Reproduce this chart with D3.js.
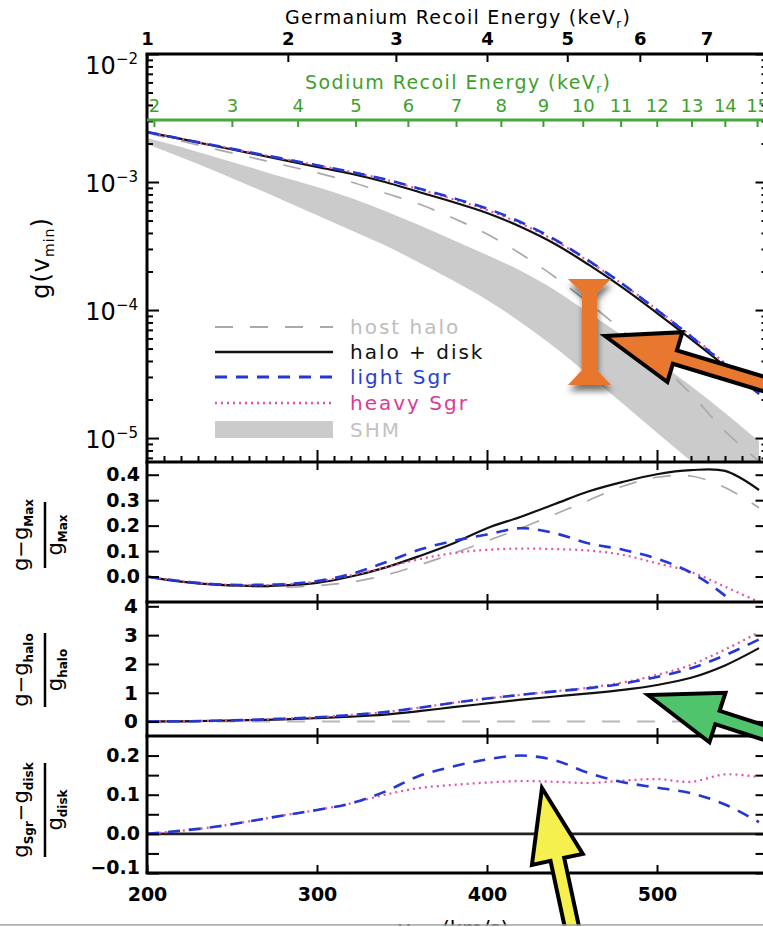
<!DOCTYPE html>
<html lang="en">
<head>
<meta charset="UTF-8">
<title>g(vmin) with the Sgr stream</title>
<script src="https://d3js.org/d3.v7.min.js"></script>
<style>
body { margin: 0; background: #fff; }
svg { display: block; }
text { font-family: "DejaVu Sans", sans-serif; }
</style>
</head>
<body>
<div id="chart"></div>
<script>
// velocity grid, km/s
var vmin = [200, 220, 240, 260, 280, 300, 320, 340, 360, 380, 400, 420, 440, 460, 480, 500, 520, 540, 560];

// top panel: g(vmin)
var gHostHalo = [2.42e-3, 2.09e-3, 1.81e-3, 1.57e-3, 1.36e-3, 1.18e-3, 1.00e-3, 8.2e-4, 6.73e-4, 5.23e-4, 3.92e-4, 2.74e-4, 1.81e-4, 1.13e-4, 6.85e-5, 4.0e-5, 2.21e-5, 1.13e-5, 6.6e-6];
var gHaloDisk = [2.46e-3, 2.17e-3, 1.91e-3, 1.69e-3, 1.49e-3, 1.31e-3, 1.16e-3, 1.00e-3, 8.35e-4, 6.98e-4, 5.73e-4, 4.45e-4, 3.28e-4, 2.25e-4, 1.49e-4, 9.47e-5, 5.93e-5, 3.65e-5, 2.21e-5];
var gLightSgr = [2.46e-3, 2.175e-3, 1.93e-3, 1.71e-3, 1.52e-3, 1.35e-3, 1.20e-3, 1.05e-3, 8.9e-4, 7.5e-4, 6.2e-4, 4.85e-4, 3.55e-4, 2.42e-4, 1.59e-4, 1.0e-4, 6.2e-5, 3.75e-5, 2.22e-5];
var gHeavySgr = [2.46e-3, 2.175e-3, 1.93e-3, 1.71e-3, 1.52e-3, 1.35e-3, 1.20e-3, 1.045e-3, 8.8e-4, 7.35e-4, 6.05e-4, 4.72e-4, 3.48e-4, 2.39e-4, 1.585e-4, 1.01e-4, 6.3e-5, 3.85e-5, 2.3e-5];
var shmHigh = [2.21e-3, 1.88e-3, 1.57e-3, 1.31e-3, 1.09e-3, 9.14e-4, 7.5e-4, 5.93e-4, 4.61e-4, 3.52e-4, 2.69e-4, 2.02e-4, 1.43e-4, 9.47e-5, 6.26e-5, 4.0e-5, 2.55e-5, 1.57e-5, 9.47e-6];
var shmLow = [1.98e-3, 1.56e-3, 1.22e-3, 9.4e-4, 7.2e-4, 5.5e-4, 4.2e-4, 3.2e-4, 2.35e-4, 1.7e-4, 1.2e-4, 8.0e-5, 5.1e-5, 3.1e-5, 1.85e-5, 1.1e-5, 6.6e-6, 3.9e-6, 2.3e-6];

// second panel: (g - gMax)/gMax
var maxHost = [0, -0.02, -0.033, -0.04, -0.042, -0.036, -0.022, 0.005, 0.045, 0.09, 0.14, 0.19, 0.245, 0.3, 0.355, 0.39, 0.395, 0.35, 0.27];
var maxDisk = [0, -0.02, -0.032, -0.037, -0.035, -0.025, 0.0, 0.035, 0.08, 0.13, 0.19, 0.235, 0.285, 0.335, 0.372, 0.402, 0.418, 0.415, 0.34];
var maxLight = [0, -0.018, -0.03, -0.033, -0.03, -0.018, 0.01, 0.055, 0.105, 0.14, 0.165, 0.19, 0.17, 0.13, 0.105, 0.07, 0.015, -0.075, -0.2];
var maxHeavy = [0, -0.018, -0.03, -0.034, -0.031, -0.02, 0.005, 0.035, 0.068, 0.092, 0.105, 0.11, 0.108, 0.102, 0.085, 0.052, 0.018, -0.04, -0.1];

// third panel: (g - ghalo)/ghalo
var haloDisk = [0, 0.01, 0.03, 0.05, 0.08, 0.12, 0.17, 0.24, 0.36, 0.5, 0.63, 0.76, 0.87, 0.98, 1.1, 1.27, 1.52, 1.95, 2.55];
var haloLight = [0, 0.01, 0.03, 0.06, 0.1, 0.15, 0.23, 0.33, 0.48, 0.65, 0.8, 0.93, 1.05, 1.16, 1.32, 1.55, 1.85, 2.3, 2.85];
var haloHeavy = [0, 0.01, 0.03, 0.06, 0.1, 0.15, 0.23, 0.33, 0.48, 0.65, 0.8, 0.93, 1.05, 1.18, 1.36, 1.62, 1.97, 2.5, 3.1];

// bottom panel: (gSgr - gdisk)/gdisk
var diskLight = [0, 0.008, 0.018, 0.032, 0.047, 0.061, 0.078, 0.108, 0.148, 0.172, 0.19, 0.2, 0.188, 0.155, 0.132, 0.118, 0.104, 0.075, 0.03];
var diskHeavy = [0, 0.008, 0.018, 0.032, 0.047, 0.061, 0.078, 0.1, 0.117, 0.125, 0.131, 0.135, 0.133, 0.13, 0.136, 0.14, 0.133, 0.152, 0.145];

// tick labels
var xTickValues = [200, 300, 400, 500];
var geTickValues = [1, 2, 3, 4, 5, 6, 7];
var naTickValues = [2, 3, 4, 5, 6, 7, 8, 9, 10, 11, 12, 13, 14, 15];
var logExponents = [-2, -3, -4, -5];
var p2Ticks = [0.0, 0.1, 0.2, 0.3, 0.4];
var p3Ticks = [0, 1, 2, 3, 4];
var p4Ticks = [-0.1, -0.05, 0.0, 0.05, 0.1, 0.15, 0.2];
var p4Labels = [-0.1, 0.0, 0.1, 0.2];
var legendNames = ['host halo', 'halo + disk', 'light Sgr', 'heavy Sgr', 'SHM'];

var w = 763, h = 927;
var left = 147, right = 767.5;

var x = d3.scaleLinear().domain([200, 565]).range([left, right]);
// recoil energy axes: vmin grows as sqrt(E)
var geScale = d3.scalePow().exponent(0.5).domain([1, Math.pow(565 / 200, 2)]).range([left, right]);
var naScale = d3.scalePow().exponent(0.5).domain([Math.pow(200 / 144.3, 2), Math.pow(565 / 144.3, 2)]).range([left, right]);

var y1 = d3.scaleLog().domain([6.5e-6, 1e-2]).range([462, 54]);
var y2 = d3.scaleLinear().domain([-0.1, 0.45]).range([602, 462]);
var y3 = d3.scaleLinear().domain([-0.5, 4.15]).range([736, 602]);
var y4 = d3.scaleLinear().domain([-0.1, 0.25]).range([873, 736]);
var panelEdges = [54, 462, 602, 736, 873];

var svg = d3.select('#chart').append('svg').attr('width', w).attr('height', h);
svg.append('rect').attr('width', w).attr('height', h).attr('fill', '#fff');
var defs = svg.append('defs');
for (var i = 0; i < 4; i++) {
  defs.append('clipPath').attr('id', 'clip' + i).append('rect')
    .attr('x', left).attr('y', panelEdges[i])
    .attr('width', right - left).attr('height', panelEdges[i + 1] - panelEdges[i]);
}
var shadow = defs.append('filter').attr('id', 'shadow')
  .attr('x', '-30%').attr('y', '-30%').attr('width', '160%').attr('height', '160%');
shadow.append('feDropShadow').attr('dx', 1).attr('dy', 6).attr('stdDeviation', 3)
  .attr('flood-color', '#000').attr('flood-opacity', 0.55);

var sty = {
  host:  {color: '#a9a9a9', width: 1.7, dash: '18,17'},
  disk:  {color: '#111111', width: 2.2, dash: null},
  light: {color: '#2437d4', width: 2.6, dash: '12,9'},
  heavy: {color: '#e052a8', width: 2.2, dash: '2,4'}
};

function drawSeries(g, values, yScale, s) {
  var line = d3.line()
    .x(function(d, i) { return x(vmin[i]); })
    .y(function(d) { return yScale(d); })
    .curve(d3.curveCatmullRom);
  g.append('path').attr('d', line(values))
    .attr('fill', 'none').attr('stroke', s.color)
    .attr('stroke-width', s.width).attr('stroke-dasharray', s.dash);
}

function drawZero(g, yScale, s) {
  g.append('path').attr('d', d3.line()(x.domain().map(function(v) { return [x(v), yScale(0)]; })))
    .attr('fill', 'none').attr('stroke', s.color)
    .attr('stroke-width', s.width).attr('stroke-dasharray', s.dash);
}

// panel 1
var g1 = svg.append('g').attr('clip-path', 'url(#clip0)');
g1.append('path')
  .attr('d', d3.area()
    .x(function(d, i) { return x(vmin[i]); })
    .y0(function(d, i) { return y1(shmLow[i]); })
    .y1(function(d) { return y1(d); })
    .curve(d3.curveCatmullRom)(shmHigh))
  .attr('fill', '#cbcbcb');
drawSeries(g1, gHostHalo, y1, sty.host);
drawSeries(g1, gHaloDisk, y1, sty.disk);
drawSeries(g1, gHeavySgr, y1, sty.heavy);
drawSeries(g1, gLightSgr, y1, sty.light);

// panel 2
var g2 = svg.append('g').attr('clip-path', 'url(#clip1)');
drawSeries(g2, maxHost, y2, sty.host);
drawSeries(g2, maxDisk, y2, sty.disk);
drawSeries(g2, maxHeavy, y2, sty.heavy);
drawSeries(g2, maxLight, y2, sty.light);

// panel 3
var g3 = svg.append('g').attr('clip-path', 'url(#clip2)');
drawZero(g3, y3, {color: '#b8b8b8', width: 2, dash: '18,17'});
drawSeries(g3, haloDisk, y3, sty.disk);
drawSeries(g3, haloHeavy, y3, sty.heavy);
drawSeries(g3, haloLight, y3, sty.light);

// panel 4
var g4 = svg.append('g').attr('clip-path', 'url(#clip3)');
drawZero(g4, y4, {color: '#222', width: 2.6, dash: null});
drawSeries(g4, diskHeavy, y4, sty.heavy);
drawSeries(g4, diskLight, y4, sty.light);

// ticks
function tickAxis(axis, tx, ty, color, size, weight) {
  var g = svg.append('g').attr('transform', 'translate(' + tx + ',' + ty + ')').call(axis);
  g.select('.domain').remove();
  g.attr('font-family', null).attr('font-size', size || 19).attr('font-weight', weight || 'bold');
  g.selectAll('.tick line').attr('stroke', color || '#000').attr('stroke-width', 2);
  g.selectAll('.tick text').attr('fill', color || '#000');
  return g;
}

var xMinor = d3.range(210, 565, 10).filter(function(v) { return v % 100 !== 0; });
var xMajorInner = [300, 400, 500];
tickAxis(d3.axisBottom(x).tickValues(xMinor).tickSize(-6).tickFormat(''), 0, 462);
tickAxis(d3.axisBottom(x).tickValues(xMajorInner).tickSize(-12).tickFormat(''), 0, 462);
[602, 736].forEach(function(yy) {
  tickAxis(d3.axisBottom(x).tickValues(xMajorInner).tickSize(-8).tickFormat(''), 0, yy);
  tickAxis(d3.axisTop(x).tickValues(xMajorInner).tickSize(-8).tickFormat(''), 0, yy);
});
tickAxis(d3.axisTop(x).tickValues(xMajorInner).tickSize(-8).tickFormat(''), 0, 462);
tickAxis(d3.axisBottom(x).tickValues(xTickValues).tickSize(-8).tickPadding(15)
  .tickFormat(d3.format('d')), 0, 873, '#000', 19);

// top axes
tickAxis(d3.axisTop(geScale).tickValues(geTickValues).tickSize(-8).tickPadding(9)
  .tickFormat(d3.format('d')), 0, 54, '#000', 18);
tickAxis(d3.axisTop(naScale).tickValues(naTickValues).tickSize(-7).tickPadding(8)
  .tickFormat(d3.format('d')), 0, 120, '#3f9f2c', 18, 'normal');

// log ticks for g(vmin)
var logMinor = [];
[-6, -5, -4, -3].forEach(function(e) {
  for (var k = 2; k <= 9; k++) {
    var v = k * Math.pow(10, e);
    if (v >= 6.5e-6 && v < 1e-2) logMinor.push(v);
  }
});
var logMajor = logExponents.map(function(e) { return Math.pow(10, e); });
tickAxis(d3.axisLeft(y1).tickValues(logMajor).tickSize(-12).tickFormat(''), left, 0);
tickAxis(d3.axisLeft(y1).tickValues(logMinor).tickSize(-6).tickFormat(''), left, 0);
tickAxis(d3.axisRight(y1).tickValues(logMajor).tickSize(-12).tickFormat(''), right, 0);
tickAxis(d3.axisRight(y1).tickValues(logMinor).tickSize(-6).tickFormat(''), right, 0);

svg.append('g').selectAll('text').data(logExponents).join('text')
  .attr('x', 138)
  .attr('y', function(d) { return Math.max(y1(Math.pow(10, d)), 64) + 10; })
  .attr('text-anchor', 'end').attr('font-size', 24)
  .each(function(d) {
    var t = d3.select(this);
    t.append('tspan').text('10');
    t.append('tspan').attr('font-size', 15).attr('dy', -10).text('\u2212' + Math.abs(d));
  });

// linear panels
tickAxis(d3.axisLeft(y2).tickValues(p2Ticks).tickSize(-12).tickPadding(7).tickFormat(d3.format('.1f')), left, 0);
tickAxis(d3.axisRight(y2).tickValues(p2Ticks).tickSize(-12).tickFormat(''), right, 0);
tickAxis(d3.axisLeft(y3).tickValues(p3Ticks).tickSize(-12).tickPadding(9).tickFormat(d3.format('d')), left, 0, '#000', 20);
tickAxis(d3.axisRight(y3).tickValues(p3Ticks).tickSize(-12).tickFormat(''), right, 0);
var a4 = tickAxis(d3.axisLeft(y4).tickValues(p4Ticks).tickSize(-12).tickPadding(7)
  .tickFormat(function(d) { return p4Labels.indexOf(d) >= 0 ? d3.format('.1f')(d) : ''; }), left, 0);
a4.selectAll('.tick text').filter(function(d) { return d === -0.1; }).attr('dy', '0.0em');
tickAxis(d3.axisRight(y4).tickValues(p4Ticks).tickSize(-12).tickFormat(''), right, 0);

// frame
var frame = svg.append('g').attr('stroke', '#000').attr('stroke-width', 3);
panelEdges.forEach(function(yy) {
  frame.append('line').attr('x1', left - 1.5).attr('x2', w).attr('y1', yy).attr('y2', yy);
});
frame.append('line').attr('x1', left).attr('x2', left).attr('y1', 54).attr('y2', 873);
svg.append('line').attr('x1', left).attr('x2', w).attr('y1', 120).attr('y2', 120)
  .attr('stroke', '#45a83a').attr('stroke-width', 3);

// axis titles
var geTitle = svg.append('text').attr('x', 285).attr('y', 24).attr('font-size', 19)
  .attr('textLength', 345).attr('lengthAdjust', 'spacing');
geTitle.append('tspan').text('Germanium Recoil Energy (keV');
geTitle.append('tspan').attr('font-size', 12).attr('dy', 4).text('r');
geTitle.append('tspan').attr('dy', -4).text(')');

var naTitle = svg.append('text').attr('x', 305).attr('y', 89).attr('font-size', 19)
  .attr('fill', '#3f9f2c').attr('textLength', 305).attr('lengthAdjust', 'spacing');
naTitle.append('tspan').text('Sodium Recoil Energy (keV');
naTitle.append('tspan').attr('font-size', 12).attr('dy', 4).text('r');
naTitle.append('tspan').attr('dy', -4).text(')');

var yTitle = svg.append('text').attr('transform', 'translate(49,258) rotate(-90)')
  .attr('text-anchor', 'middle').attr('font-size', 24).attr('letter-spacing', 1);
yTitle.append('tspan').text('g(v');
yTitle.append('tspan').attr('font-size', 14).attr('dy', 5).text('min');
yTitle.append('tspan').attr('dy', -5).text(')');

function fraction(cx, cy, barLen, numParts, denParts) {
  var g = svg.append('g').attr('transform', 'translate(' + cx + ',' + cy + ') rotate(-90)');
  g.append('line').attr('x1', -barLen / 2).attr('x2', barLen / 2)
    .attr('stroke', '#000').attr('stroke-width', 2.5);
  [[numParts, -17], [denParts, 17]].forEach(function(p) {
    var t = g.append('text').attr('y', p[1]).attr('text-anchor', 'middle').attr('font-size', 21);
    var shift = 0;
    p[0].forEach(function(part) {
      var dy = (part.sub ? 5 : 0) - shift;
      shift = part.sub ? 5 : 0;
      t.append('tspan').attr('font-size', part.sub ? 12 : 21).attr('dy', dy)
        .attr('font-weight', part.sub ? 'bold' : null).text(part.t);
    });
  });
}
fraction(45, 535, 66,
  [{t: 'g\u2212g'}, {t: 'Max', sub: true}],
  [{t: 'g'}, {t: 'Max', sub: true}]);
fraction(45, 670, 74,
  [{t: 'g\u2212g'}, {t: 'halo', sub: true}],
  [{t: 'g'}, {t: 'halo', sub: true}]);
fraction(45, 810, 94,
  [{t: 'g'}, {t: 'Sgr', sub: true}, {t: '\u2212g'}, {t: 'disk', sub: true}],
  [{t: 'g'}, {t: 'disk', sub: true}]);

var xTitle = svg.append('text').attr('x', 398).attr('y', 936).attr('font-size', 21);
xTitle.append('tspan').text('v');
xTitle.append('tspan').attr('font-size', 13).attr('dy', 5).text('min');
xTitle.append('tspan').attr('dy', -5).text(' (km/s)');

// legend
var legendY = [327, 352, 377, 403, 430];
var legendStyles = [sty.host, sty.disk, sty.light, sty.heavy, null];
var legendColors = ['#bdbdbd', '#111', '#2a3ecf', '#d63c98', '#c2c2c2'];
var lg = svg.append('g');
legendNames.forEach(function(name, i) {
  var s = legendStyles[i];
  if (s) {
    lg.append('line').attr('x1', 215).attr('x2', 333).attr('y1', legendY[i]).attr('y2', legendY[i])
      .attr('stroke', s.color).attr('stroke-width', s.width + 0.4).attr('stroke-dasharray', s.dash);
  } else {
    lg.append('rect').attr('x', 215).attr('y', legendY[i] - 9).attr('width', 118).attr('height', 17)
      .attr('fill', '#cbcbcb');
  }
  lg.append('text').attr('x', 350).attr('y', legendY[i] + 7).attr('font-size', 20)
    .attr('letter-spacing', 2).attr('fill', legendColors[i]).text(name);
});

// annotation overlays
function arrowPoints(tip, dir, len, shaftW, headL, headW) {
  var n = Math.hypot(dir[0], dir[1]), ux = dir[0] / n, uy = dir[1] / n, px = -uy, py = ux;
  var bx = tip[0] + ux * headL, by = tip[1] + uy * headL;
  var tx = tip[0] + ux * len, ty = tip[1] + uy * len;
  return [tip,
    [bx + px * headW / 2, by + py * headW / 2],
    [bx + px * shaftW / 2, by + py * shaftW / 2],
    [tx + px * shaftW / 2, ty + py * shaftW / 2],
    [tx - px * shaftW / 2, ty - py * shaftW / 2],
    [bx - px * shaftW / 2, by - py * shaftW / 2],
    [bx - px * headW / 2, by - py * headW / 2]];
}
var ann = svg.append('g');
ann.append('path')
  .attr('d', 'M568,279 L611,279 L597,293 L597,370 L611,385 L568,385 L582,370 L582,293 Z')
  .attr('fill', '#e8772f').attr('filter', 'url(#shadow)');

svg.append('line').attr('x1', 0).attr('x2', w).attr('y1', 925).attr('y2', 925)
  .attr('stroke', '#9a9a9a').attr('stroke-width', 1.5);
svg.append('rect').attr('x', 0).attr('y', 925.8).attr('width', w).attr('height', 2).attr('fill', '#fff');

[
  {tip: [605, 336], dir: [69.5, 21], color: '#e8772f'},
  {tip: [648, 695], dir: [69.5, 22.5], color: '#4fc46c'},
  {tip: [542, 788], dir: [15.5, 72], color: '#f6f04e'}
].forEach(function(a) {
  ann.append('polygon')
    .attr('points', arrowPoints(a.tip, a.dir, 260, 14, 73, 52).map(function(p) { return p.join(','); }).join(' '))
    .attr('fill', a.color).attr('stroke', '#000').attr('stroke-width', 4).attr('stroke-linejoin', 'miter');
});
</script>
</body>
</html>
